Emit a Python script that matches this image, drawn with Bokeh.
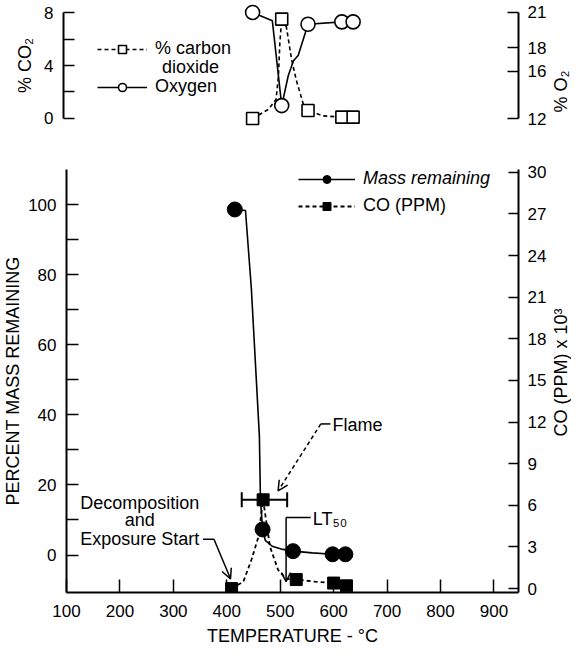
import math
from bokeh.plotting import figure
from bokeh.models import (Range1d, LinearAxis, FixedTicker, Legend, LegendItem, Label,
                          Arrow, OpenHead, Whisker, TeeHead, ColumnDataSource)
from bokeh.layouts import column, row
from bokeh.embed import file_html
from bokeh.resources import INLINE

FONT = "Liberation Sans"

# ---------------- data: top panel (gases) ----------------
gas_temp = [410, 472, 528, 600, 624]
co2_pct = [0.0, 7.5, 0.6, 0.1, 0.1]
o2_pct = [21.0, 13.1, 20.0, 20.2, 20.2]
co2_trace_temp = [410, 444, 460, 465, 468, 472, 482, 493, 503, 520, 528, 560, 600, 624]
co2_trace_pct = [0.0, 0.7, 1.45, 3.2, 5.7, 7.5, 6.9, 4.45, 2.9, 0.83, 0.6, 0.2, 0.1, 0.1]
o2_trace_temp = [410, 452, 472, 486, 497, 507, 528, 600, 624]
o2_trace_pct = [21.0, 20.3, 13.1, 15.65, 16.9, 17.35, 20.0, 20.2, 20.2]
co2_ticks = [0, 4, 8]
co2_minor = [2, 6]
o2_ticks = [12, 16, 18, 21]

# ---------------- data: bottom panel ----------------
mass_temp = [415, 467, 524, 598, 622]
mass_pct = [98.6, 7.3, 1.1, 0.2, 0.2]
mass_trace_temp = [415, 435, 446, 461, 463, 467, 472, 485, 505, 524, 560, 598, 622]
mass_trace_pct = [98.6, 98.3, 76, 34, 16, 7.3, 4.2, 2.5, 1.6, 1.1, 0.6, 0.2, 0.2]
co_temp = [409, 468, 530, 600, 624]
co_ppm_k = [0.0, 6.4, 0.65, 0.4, 0.2]
co_trace_temp = [409, 431, 446, 459, 468, 481, 496, 511, 530, 565, 600, 624]
co_trace_ppm_k = [0.0, 0.5, 2.06, 3.7, 6.4, 3.0, 1.35, 0.7, 0.65, 0.5, 0.4, 0.2]
flame_lo = [428]
flame_hi = [513]
temp_ticks = [100, 200, 300, 400, 500, 600, 700, 800, 900]
mass_ticks = [0, 20, 40, 60, 80, 100]
mass_minor = [10, 30, 50, 70, 90]
co_ticks = [0, 3, 6, 9, 12, 15, 18, 21, 24, 27, 30]

MAIN_W = 549
LAB_W = 22


def style_axis(ax, tick_len):
    ax.axis_line_color = "black"
    ax.axis_line_width = 2
    ax.major_tick_line_color = "black"
    ax.minor_tick_line_color = "black"
    ax.major_tick_line_width = 1.5
    ax.minor_tick_line_width = 1.5
    ax.major_tick_in = tick_len
    ax.major_tick_out = 0
    ax.minor_tick_in = tick_len
    ax.minor_tick_out = 0
    ax.major_label_text_font = FONT
    ax.major_label_text_font_size = "17px"
    ax.major_label_text_color = "black"
    ax.axis_label_text_font = FONT
    ax.axis_label_text_font_size = "18px"
    ax.axis_label_text_font_style = "normal"
    ax.axis_label_text_color = "black"


def base_fig(height, xr, yr, top, bottom):
    p = figure(width=MAIN_W, height=height, output_backend="svg", toolbar_location=None,
               x_range=xr, y_range=yr, min_border_left=63, min_border_right=29,
               min_border_top=top, min_border_bottom=bottom)
    p.outline_line_color = None
    p.grid.visible = False
    p.background_fill_color = "white"
    p.border_fill_color = "white"
    return p


def side_label(height, text, yfrac):
    f = figure(width=LAB_W, height=height, output_backend="svg", toolbar_location=None,
               x_range=Range1d(0, 1), y_range=Range1d(0, 1), min_border=0,
               x_axis_location=None, y_axis_location=None)
    f.outline_line_color = None
    f.grid.visible = False
    f.add_layout(Label(x=0.5, y=yfrac, text=text, text_font=FONT, text_font_size="18px",
                       text_align="center", text_baseline="middle", angle=math.pi / 2,
                       text_color="black"))
    return f


# ================= top panel =================
top = base_fig(138, Range1d(7.5, 976), Range1d(-0.68, 8.68), 3, 11)
top.xaxis.visible = False
top.extra_y_ranges = {"o2": Range1d(11.24, 21.76)}

lax = top.yaxis[0]
lax.ticker = FixedTicker(ticks=co2_ticks, minor_ticks=co2_minor)
lax.bounds = (0, 8)
lax.axis_label = "% CO₂"
lax.major_label_standoff = 10
lax.axis_label_standoff = 6
style_axis(lax, 11)

rax = LinearAxis(y_range_name="o2", ticker=FixedTicker(ticks=o2_ticks), bounds=(12, 21))
style_axis(rax, 11)
rax.major_label_standoff = 9
top.add_layout(rax, "right")

co2_line = top.line(co2_trace_temp, co2_trace_pct, line_color="black", line_width=1.6,
                    line_dash="4 3")
o2_line = top.line(o2_trace_temp, o2_trace_pct, line_color="black", line_width=1.6,
                   y_range_name="o2")
co2_pts = top.scatter(gas_temp, co2_pct, marker="square", size=12, fill_color="white",
                      line_color="black", line_width=1.6)
o2_pts = top.scatter(gas_temp, o2_pct, marker="circle", size=14, fill_color="white",
                     line_color="black", line_width=1.6, y_range_name="o2")


def make_legend(label, renderers, loc, glyph_w, size="18px", style="normal"):
    lg = Legend(items=[LegendItem(label=label, renderers=renderers)], location=loc,
                glyph_width=glyph_w, glyph_height=20, label_height=20, label_standoff=8,
                padding=0, margin=0, spacing=0, border_line_color=None,
                background_fill_alpha=0, label_text_font=FONT, label_text_font_size=size,
                label_text_font_style=style, label_text_color="black")
    return lg


top.add_layout(make_legend("% carbon", [co2_line, co2_pts], (34, 68), 50))
top.add_layout(make_legend("Oxygen", [o2_line, o2_pts], (34, 30), 50))
top.add_layout(Label(x=217, y=3.85, text="dioxide", text_font=FONT, text_font_size="18px",
                     text_align="left", text_baseline="middle", text_color="black"))

top_lab = side_label(138, "% O₂", 0.29)

# ================= bottom panel =================
bot = base_fig(510, Range1d(100, 946), Range1d(-10.7, 110), 31, 50)
bot.extra_y_ranges = {"co": Range1d(-0.28, 30.2)}

xax = bot.xaxis[0]
xax.ticker = FixedTicker(ticks=temp_ticks)
xax.axis_label = "TEMPERATURE - °C"
xax.major_label_standoff = 12
xax.axis_label_standoff = 6
style_axis(xax, 13)

yax = bot.yaxis[0]
yax.ticker = FixedTicker(ticks=mass_ticks, minor_ticks=mass_minor)
yax.axis_label = "PERCENT MASS REMAINING"
yax.major_label_standoff = 10
yax.axis_label_standoff = 2
style_axis(yax, 12)

cax = LinearAxis(y_range_name="co", ticker=FixedTicker(ticks=co_ticks))
style_axis(cax, 10)
cax.major_label_standoff = 9
bot.add_layout(cax, "right")

mass_line = bot.line(mass_trace_temp, mass_trace_pct, line_color="black", line_width=1.6)
co_line = bot.line(co_trace_temp, co_trace_ppm_k, line_color="black", line_width=1.8,
                   line_dash="4 3", y_range_name="co")

err_src = ColumnDataSource(dict(base=[co_ppm_k[1]], lower=flame_lo, upper=flame_hi))
bot.add_layout(Whisker(source=err_src, base="base", lower="lower", upper="upper",
                       dimension="width", y_range_name="co", line_color="black", line_width=2,
                       upper_head=TeeHead(size=15, line_width=2, line_color="black"),
                       lower_head=TeeHead(size=15, line_width=2, line_color="black")))

mass_pts = bot.scatter(mass_temp, mass_pct, marker="circle", size=15, fill_color="black",
                       line_color="black")
co_pts = bot.scatter(co_temp, co_ppm_k, marker="square", size=12, fill_color="black",
                     line_color="black", y_range_name="co")

bot.add_layout(make_legend("Mass remaining", [mass_line, mass_pts], (232, 403), 57,
                           style="italic"))
bot.add_layout(make_legend("CO (PPM)", [co_line, co_pts], (232, 376), 57))


def txt(x, y, s, align="left"):
    bot.add_layout(Label(x=x, y=y, text=s, text_font=FONT, text_font_size="18px",
                         text_align=align, text_baseline="middle", text_color="black"))


# annotations
txt(598, 37.2, "Flame")
bot.add_layout(Arrow(x_start=576, y_start=37.4, x_end=594, y_end=37.4, end=None,
                     line_color="black", line_width=1.5))
bot.add_layout(Arrow(x_start=576, y_start=37.4, x_end=496, y_end=18.3, line_dash="4 3",
                     line_color="black", line_width=1.5,
                     end=OpenHead(size=10, line_width=1.5, line_color="black")))

txt(561, 10.4, "LT₅₀")
bot.add_layout(Arrow(x_start=511, y_start=10.7, x_end=557, y_end=10.7, end=None,
                     line_color="black", line_width=1.5))
bot.add_layout(Arrow(x_start=511, y_start=10.7, x_end=511, y_end=-7.6,
                     line_color="black", line_width=1.5,
                     end=OpenHead(size=9, line_width=1.5, line_color="black")))

txt(237, 14.9, "Decomposition", "center")
txt(237, 9.9, "and", "center")
txt(237, 4.5, "Exposure Start", "center")
bot.add_layout(Arrow(x_start=355.5, y_start=4.5, x_end=376, y_end=4.5, end=None,
                     line_color="black", line_width=1.5))
bot.add_layout(Arrow(x_start=376, y_start=4.5, x_end=407, y_end=-6.8,
                     line_color="black", line_width=1.5,
                     end=OpenHead(size=10, line_width=1.5, line_color="black")))

bot_lab = side_label(510, "CO (PPM) x 10³", 0.52)

layout = column(row(top, top_lab), row(bot, bot_lab))
open("out.html", "w").write(file_html(layout, INLINE))
